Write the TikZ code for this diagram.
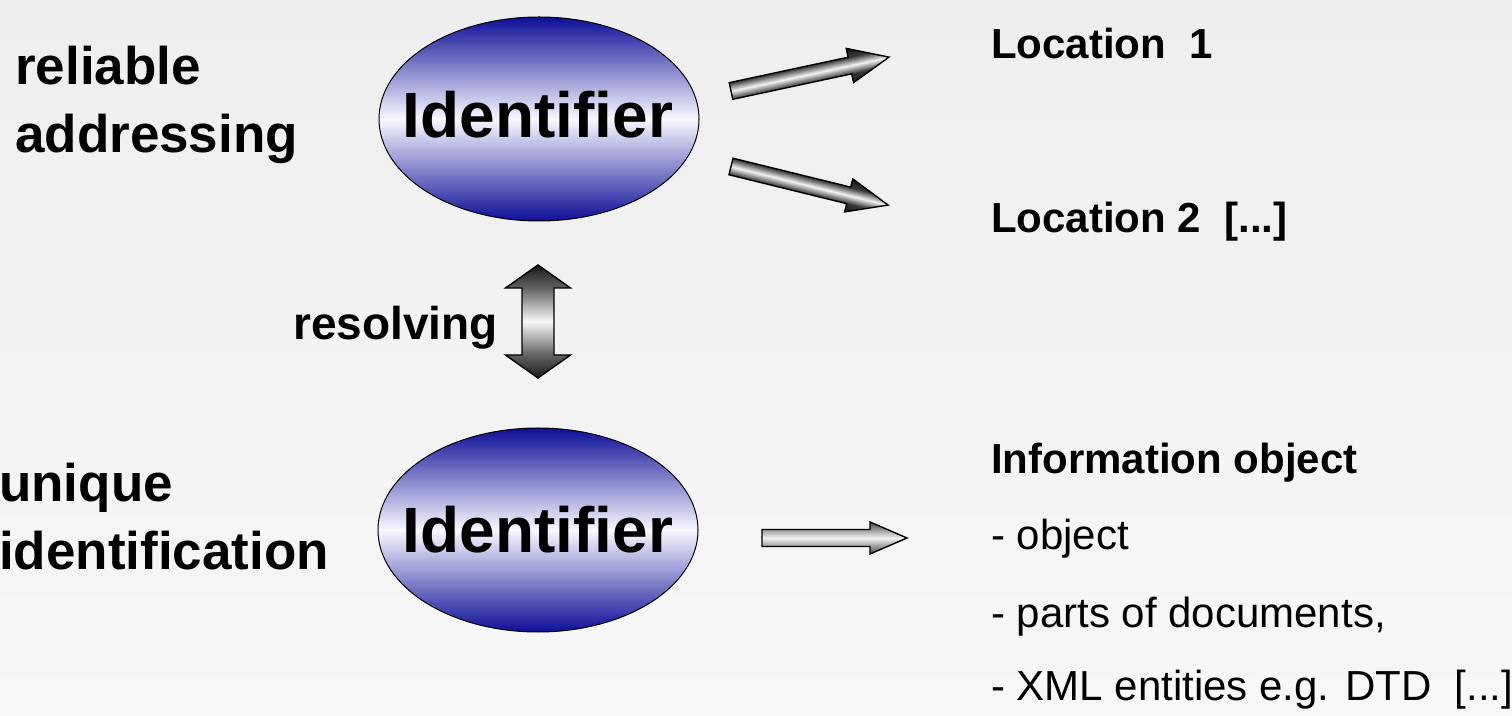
\documentclass[tikz,border=0pt]{standalone}
\usepackage{fontspec}
\setmainfont{Liberation Sans}
\usetikzlibrary{shapes.geometric}
\definecolor{bgtop}{HTML}{EEEEEE}
\definecolor{bgbot}{HTML}{F7F7F7}
\definecolor{ellblue}{HTML}{0E0E98}
\definecolor{ellwhite}{HTML}{F8F8FF}
\pgfdeclareverticalshading{diagshade}{100bp}{rgb(0bp)=(0.08,0.08,0.08); rgb(25bp)=(0.08,0.08,0.08); rgb(38bp)=(0.22,0.22,0.22); rgb(50bp)=(0.95,0.95,0.95); rgb(62bp)=(0.22,0.22,0.22); rgb(75bp)=(0.08,0.08,0.08); rgb(100bp)=(0.08,0.08,0.08)}
\pgfdeclareverticalshading{horshade}{100bp}{rgb(0bp)=(0.3,0.3,0.3); rgb(25bp)=(0.3,0.3,0.3); rgb(37bp)=(0.6,0.6,0.6); rgb(50bp)=(0.95,0.95,0.95); rgb(63bp)=(0.6,0.6,0.6); rgb(75bp)=(0.3,0.3,0.3); rgb(100bp)=(0.3,0.3,0.3)}
\pgfdeclareverticalshading{vershade}{100bp}{rgb(0bp)=(0.1,0.1,0.1); rgb(25bp)=(0.1,0.1,0.1); rgb(35bp)=(0.38,0.38,0.38); rgb(50bp)=(0.97,0.97,0.97); rgb(65bp)=(0.38,0.38,0.38); rgb(75bp)=(0.1,0.1,0.1); rgb(100bp)=(0.1,0.1,0.1)}
\pgfdeclareverticalshading{ellshade}{100bp}{color(0bp)=(ellblue); color(25bp)=(ellblue); color(50bp)=(ellwhite); color(75bp)=(ellblue); color(100bp)=(ellblue)}
\tikzset{
  idell/.style={ellipse, draw=black, line width=1pt, shade, shading=ellshade, minimum width=320pt, minimum height=204pt, inner sep=0pt},
  idtxt/.style={inner sep=0pt, font=\bfseries\fontsize{64}{64}\selectfont},
  biglbl/.style={anchor=base west, inner sep=0pt, font=\bfseries\fontsize{53}{53}\selectfont},
  loclbl/.style={anchor=base west, inner sep=0pt, font=\bfseries\fontsize{42}{42}\selectfont},
  txtlbl/.style={anchor=base west, inner sep=0pt, font=\fontsize{42}{42}\selectfont},
  arrowline/.style={draw=black, line width=1.4pt, line join=miter}
}
\begin{document}
\begin{tikzpicture}[x=1pt,y=1pt]
\shade[top color=bgtop, bottom color=bgbot] (0,0) rectangle (1512,715);
\useasboundingbox (0,0) rectangle (1512,715);

% ellipses
\node[idell] (id1) at (539,596) {};
\node[idtxt, anchor=base] (t1) at (538,577) {Identifier};
\node[idell] (id2) at (538,185) {};
\node[idtxt, anchor=base] (t2) at (538,162) {Identifier};

% left labels
\node[biglbl] (rel) at (15,630) {reliable};
\node[biglbl] (addr) at (15,562) {addressing};
\node[biglbl] (uniq) at (-1,213) {unique};
\node[biglbl] (ident) at (-1,145) {identification};
\node[anchor=base west, inner sep=0pt, font=\bfseries\fontsize{46}{46}\selectfont] (res) at (293,375) {resolving};

% right labels
\node[loclbl] (loc1) at (991,656) {Location\ \ 1};
\node[loclbl] (loc2) at (991,482) {Location 2\ \ [...]};
\node[loclbl] (info) at (991,241) {Information object};
\node[txtlbl] (obj) at (991,165) {- object};
\node[txtlbl] (parts) at (991,88) {- parts of documents,};
\node[txtlbl] (xml) at (991,15) {- XML entities e.g. DTD\ \ [...]};

% upper diagonal arrow
\begin{scope}[transform canvas={shift={(731,624)},rotate=12.1}]
\shadedraw[arrowline, shading=diagshade] (0,-8.5) -- (121.6,-8.5) -- (121.6,-17.5) -- (161.6,0) -- (121.6,17.5) -- (121.6,8.5) -- (0,8.5) -- cycle;
\end{scope}
% lower diagonal arrow
\begin{scope}[transform canvas={shift={(731,548.5)},rotate=-13.8}]
\shadedraw[arrowline, shading=diagshade] (0,-8.5) -- (121.2,-8.5) -- (121.2,-17) -- (161.7,0) -- (121.2,17) -- (121.2,8.5) -- (0,8.5) -- cycle;
\end{scope}
% horizontal arrow
\shadedraw[arrowline, shading=horshade] (762,168.5) -- (870,168.5) -- (870,161) -- (907,177) -- (870,193) -- (870,185.5) -- (762,185.5) -- cycle;
% resolving double arrow
\shadedraw[arrowline, shading=vershade] (538,450) -- (570.5,427) -- (554,427) -- (554,360) -- (570.5,360) -- (538,337) -- (505.5,360) -- (522,360) -- (522,427) -- (505.5,427) -- cycle;
\end{tikzpicture}
\end{document}
